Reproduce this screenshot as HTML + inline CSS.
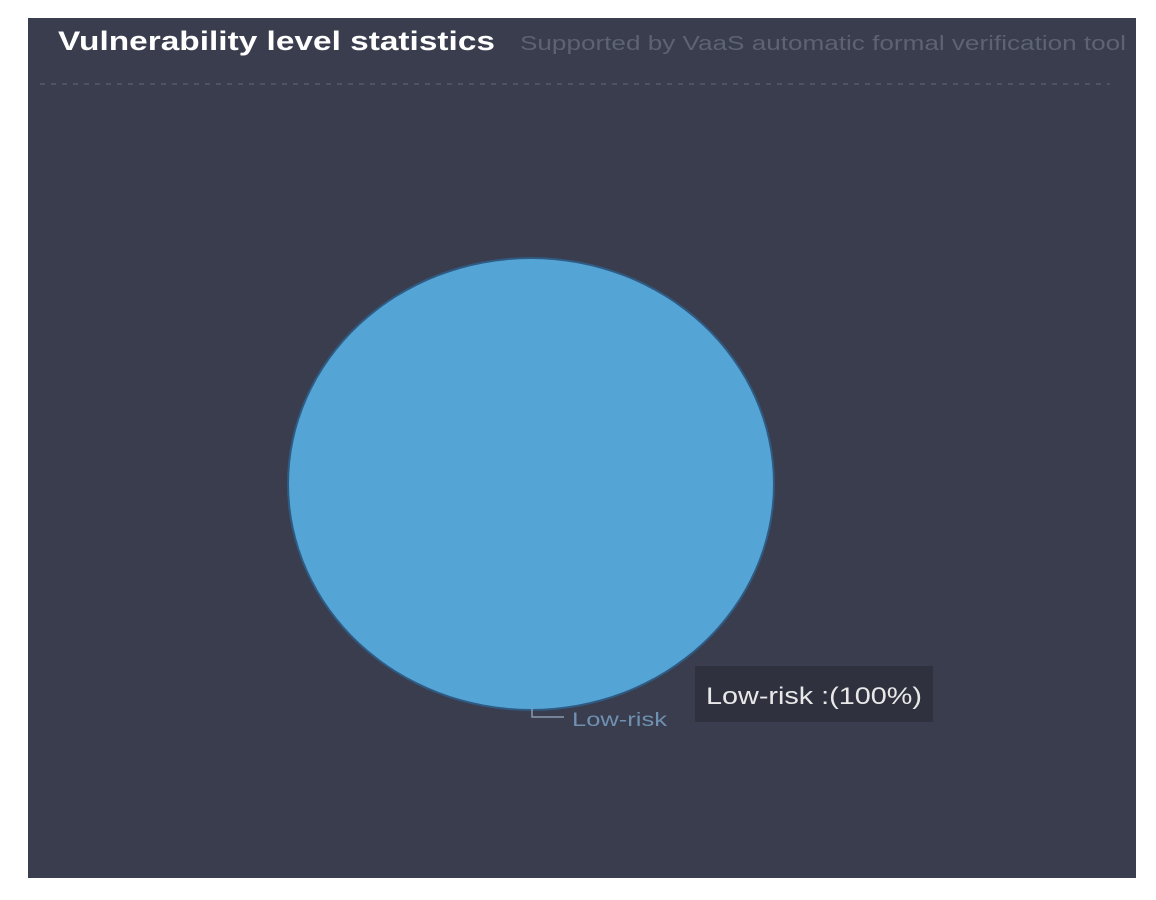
<!DOCTYPE html>
<html><head><style>
body{margin:0;width:1156px;height:900px;background:#fff;position:relative;overflow:hidden;font-family:"Liberation Sans",sans-serif}
#p{position:absolute;left:28px;top:18px;width:1108px;height:860px;background:#393d4e}
</style></head><body>
<div id="p"></div>
<svg width="1156" height="900" style="position:absolute;left:0;top:0">
<text x="58" y="50" font-size="27" font-weight="bold" fill="#ffffff" textLength="437" lengthAdjust="spacingAndGlyphs">Vulnerability level statistics</text>
<text x="520" y="50" font-size="20" fill="#5d6274" textLength="606" lengthAdjust="spacingAndGlyphs">Supported by VaaS automatic formal verification tool</text>
<line x1="40" y1="84" x2="1110" y2="84" stroke="#555a6a" stroke-width="1.5" stroke-dasharray="5,6"/>
<ellipse cx="531" cy="484" rx="244" ry="227" fill="#2f5a82"/>
<ellipse cx="531" cy="484" rx="242" ry="225" fill="#55a4d6"/>
<polyline points="532,708 532,717 564,717" fill="none" stroke="#8a9ab0" stroke-width="1.5"/>
<text x="572" y="726" font-size="19" fill="#6f90b0" textLength="95" lengthAdjust="spacingAndGlyphs">Low-risk</text>
<rect x="695" y="666" width="238" height="56" fill="#2f323e"/>
<text x="706" y="704" font-size="24" fill="#e8e8e8" textLength="216" lengthAdjust="spacingAndGlyphs">Low-risk :(100%)</text>
</svg>
</body></html>
